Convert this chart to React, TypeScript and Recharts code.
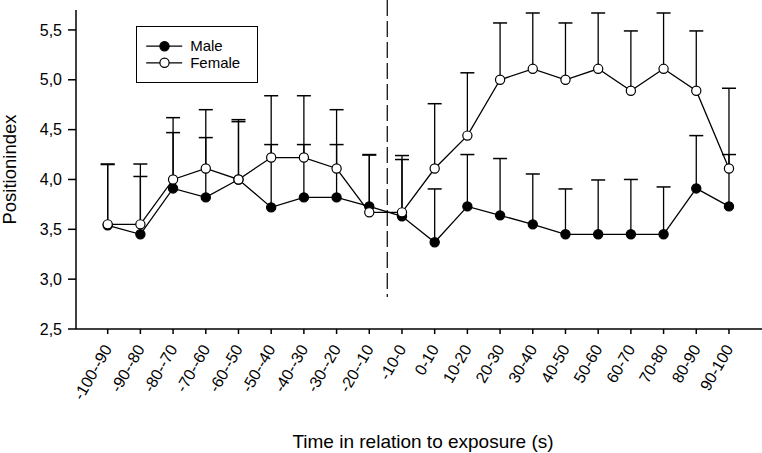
import React from 'react';
import { LineChart, Line, XAxis, YAxis, ErrorBar, ReferenceLine, Legend, Label } from 'recharts';

const timeBins = [
  '-100--90', '-90--80', '-80--70', '-70--60', '-60--50', '-50--40', '-40--30', '-30--20', '-20--10', '-10-0',
  '0-10', '10-20', '20-30', '30-40', '40-50', '50-60', '60-70', '70-80', '80-90', '90-100',
];
const maleMean = [3.54, 3.45, 3.91, 3.82, 4.0, 3.72, 3.82, 3.82, 3.73, 3.63, 3.37, 3.73, 3.64, 3.55, 3.45, 3.45, 3.45, 3.45, 3.91, 3.73];
const maleUpper = [4.15, 4.03, 4.47, 4.42, 4.58, 4.35, 4.35, 4.35, 4.25, 4.2, 3.905, 4.25, 4.21, 4.055, 3.905, 3.995, 4.0, 3.925, 4.44, 4.25];
const femaleMean = [3.55, 3.55, 4.0, 4.11, 4.0, 4.22, 4.22, 4.11, 3.67, 3.67, 4.11, 4.44, 5.0, 5.11, 5.0, 5.11, 4.89, 5.11, 4.89, 4.11];
const femaleUpper = [4.155, 4.155, 4.62, 4.7, 4.6, 4.84, 4.84, 4.7, 4.245, 4.24, 4.76, 5.07, 5.57, 5.67, 5.57, 5.67, 5.49, 5.67, 5.49, 4.915];
const yTicks = [2.5, 3.0, 3.5, 4.0, 4.5, 5.0, 5.5];
const legendOrder = ['Male', 'Female'];
const exposureOnset = 8.55;
const exposureLineBottom = 2.82;
const exposureLineTop = 5.8;

const data = timeBins.map((label, i) => ({
  i,
  label,
  male: maleMean[i],
  maleErr: [0, maleUpper[i] - maleMean[i]],
  maleUpper: maleUpper[i],
  female: femaleMean[i],
  femaleErr: [0, femaleUpper[i] - femaleMean[i]],
  femaleUpper: femaleUpper[i],
}));

const FONT = '"Liberation Sans", Arial, Helvetica, sans-serif';

const CapDot = (props: any) => {
  const { cx, cy, index } = props;
  if (cx == null || cy == null) return <g key={`c-${index}`} />;
  return <line key={`c-${index}`} x1={cx - 7} x2={cx + 7} y1={cy} y2={cy} stroke="#000" strokeWidth={1.5} />;
};

const XTick = (props: any) => {
  const { x, y, payload } = props;
  return (
    <text
      x={x}
      y={y}
      dy="0.35em"
      textAnchor="end"
      transform={`rotate(-60, ${x}, ${y})`}
      fontSize={16}
      fontFamily={FONT}
      fill="#000"
    >
      {timeBins[payload.value]}
    </text>
  );
};

const XTitle = (props: any) => {
  const vb = props.viewBox || {};
  return (
    <text x={vb.x + vb.width / 2 + 4} y={vb.y + 119} textAnchor="middle" fontSize={19} fontFamily={FONT} fill="#000">
      Time in relation to exposure (s)
    </text>
  );
};

const YTitle = (props: any) => {
  const vb = props.viewBox || {};
  const cx = 16;
  const cy = vb.y + vb.height / 2;
  return (
    <text x={cx} y={cy} textAnchor="middle" transform={`rotate(-90, ${cx}, ${cy})`} fontSize={18.5} fontFamily={FONT} fill="#000">
      Positionindex
    </text>
  );
};

const markerFill: Record<string, string> = { Male: '#000', Female: '#fff' };

const LegendBox = (props: any) => {
  const payload = props.payload || [];
  const items = legendOrder.filter((name) => payload.some((p: any) => p.value === name));
  return (
    <div style={{ width: 122, height: 57, border: '1.5px solid #000', boxSizing: 'border-box', background: '#fff' }}>
      <svg width={119} height={54} style={{ display: 'block' }}>
        {items.map((name: string, k: number) => {
          const cy = 19.2 + k * 16.6;
          return (
            <g key={name}>
              <line x1={9.2} x2={45.2} y1={cy} y2={cy} stroke="#000" strokeWidth={1.3} />
              <circle cx={27.5} cy={cy} r={4.6} fill={markerFill[name]} stroke="#000" strokeWidth={1.2} />
              <text x={53.2} y={cy + 5.2} fontSize={15} fontFamily={FONT} fill="#000">
                {name}
              </text>
            </g>
          );
        })}
      </svg>
    </div>
  );
};

export default function App() {
  return (
    <div style={{ position: 'absolute', left: 0, top: 0, width: 762, height: 453, background: '#fff' }}>
      <LineChart width={762} height={453} data={data} margin={{ top: 10, right: 0, left: 0, bottom: 0 }}>
        <XAxis
          dataKey="i"
          type="number"
          domain={[-0.969, 20.01]}
          allowDataOverflow
          ticks={timeBins.map((_, i) => i)}
          interval={0}
          height={124}
          tickSize={5}
          tickMargin={12}
          tick={<XTick />}
          axisLine={{ stroke: '#000', strokeWidth: 1.5 }}
          tickLine={{ stroke: '#000', strokeWidth: 1.5 }}
        >
          <Label content={<XTitle />} />
        </XAxis>
        <YAxis
          type="number"
          domain={[2.5, 5.7]}
          allowDataOverflow
          ticks={yTicks}
          interval={0}
          width={76}
          tickSize={8}
          tickMargin={6}
          tickFormatter={(v: number) => v.toFixed(1).replace('.', ',')}
          tick={{ fontSize: 16, fill: '#000', fontFamily: FONT }}
          axisLine={{ stroke: '#000', strokeWidth: 1.5 }}
          tickLine={{ stroke: '#000', strokeWidth: 1.5 }}
        >
          <Label content={<YTitle />} />
        </YAxis>
        <ReferenceLine
          segment={[
            { x: exposureOnset, y: exposureLineTop },
            { x: exposureOnset, y: exposureLineBottom },
          ]}
          ifOverflow="visible"
          stroke="#000"
          strokeWidth={1.2}
          strokeDasharray="16 5"
        />
        <Legend
          layout="vertical"
          align="center"
          verticalAlign="middle"
          content={<LegendBox />}
          wrapperStyle={{ position: 'absolute', left: 136, top: 26, width: 122, height: 57 }}
        />
        <Line
          name="Male"
          dataKey="male"
          stroke="#000"
          strokeWidth={1.3}
          dot={{ r: 4.6, fill: '#000', stroke: '#000', strokeWidth: 1.2 }}
          activeDot={false}
          isAnimationActive={false}
        >
          <ErrorBar dataKey="maleErr" width={0} stroke="#000" strokeWidth={1.3} direction="y" />
        </Line>
        <Line
          name="Female"
          dataKey="female"
          stroke="#000"
          strokeWidth={1.3}
          dot={{ r: 4.6, fill: '#fff', stroke: '#000', strokeWidth: 1.2 }}
          activeDot={false}
          isAnimationActive={false}
        >
          <ErrorBar dataKey="femaleErr" width={0} stroke="#000" strokeWidth={1.3} direction="y" />
        </Line>
        <Line
          name="maleCap"
          dataKey="maleUpper"
          stroke="none"
          dot={<CapDot />}
          activeDot={false}
          legendType="none"
          isAnimationActive={false}
        />
        <Line
          name="femaleCap"
          dataKey="femaleUpper"
          stroke="none"
          dot={<CapDot />}
          activeDot={false}
          legendType="none"
          isAnimationActive={false}
        />
      </LineChart>
    </div>
  );
}
